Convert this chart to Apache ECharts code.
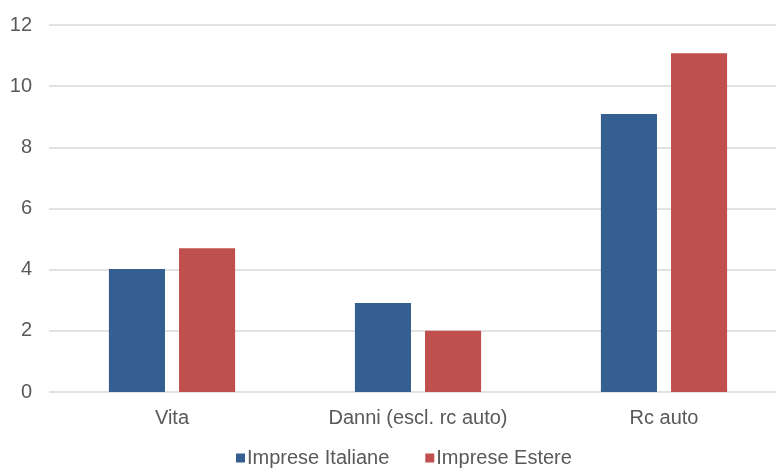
<!DOCTYPE html>
<html>
<head>
<meta charset="utf-8">
<script src="https://cdn.jsdelivr.net/npm/echarts@6/dist/echarts.min.js"></script>
<style>
  html, body { margin: 0; padding: 0; background: #fff; }
  #chart { width: 776px; height: 468px; }
</style>
</head>
<body>
<div id="chart"></div>
<script>
// dati
const categories = ['Vita', 'Danni (escl. rc auto)', 'Rc auto']
const italiane = [4.02, 2.91, 9.09]
const estere = [4.70, 2.0, 11.08]
const yTicks = { min: 0, max: 12, interval: 2 }

const chart = echarts.init(document.getElementById('chart'))

const option = {
  animation: false,
  textStyle: { fontFamily: 'Liberation Sans, Arial, sans-serif' },
  grid: {
    left: 49,
    width: 738,
    top: 25,
    height: 367,
    containLabel: false,
    outerBoundsMode: 'none'
  },
  legend: {
    bottom: -5,
    left: 231,
    itemWidth: 9,
    itemHeight: 9,
    itemGap: 36,
    icon: 'rect',
    textStyle: { fontSize: 20, color: '#595959', padding: [0, 0, 0, -3] },
    data: ['Imprese Italiane', 'Imprese Estere']
  },
  xAxis: {
    type: 'category',
    data: categories,
    axisTick: { show: false },
    axisLine: { show: false },
    axisLabel: { fontSize: 20, color: '#595959', margin: 16 }
  },
  yAxis: {
    type: 'value',
    min: yTicks.min,
    max: yTicks.max,
    interval: yTicks.interval,
    axisLine: { show: false },
    axisTick: { show: false },
    axisLabel: { fontSize: 20, color: '#595959', margin: 17 },
    splitLine: { lineStyle: { color: '#d9d9d9', width: 1.5 } }
  },
  series: [
    {
      name: 'Imprese Italiane',
      type: 'bar',
      data: italiane,
      barWidth: '22.8%',
      barGap: '25%',
      itemStyle: { color: '#365f91' }
    },
    {
      name: 'Imprese Estere',
      type: 'bar',
      data: estere,
      barWidth: '22.8%',
      itemStyle: { color: '#c0504d' }
    }
  ]
}

chart.setOption(option)
</script>
</body>
</html>
